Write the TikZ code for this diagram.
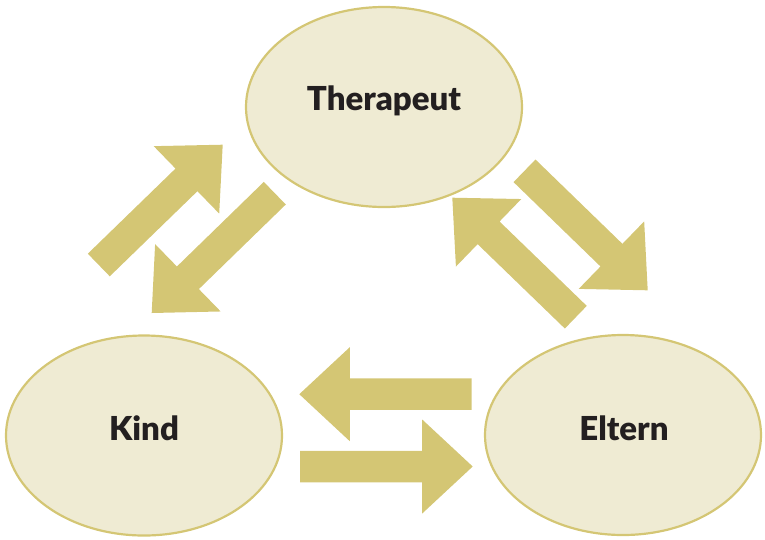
\documentclass[tikz,border=0pt]{standalone}
\usepackage{fontspec}
\setmainfont{Lato}[BoldFont={Lato Black}]
\usetikzlibrary{shapes.geometric,calc}
\definecolor{arrowcol}{HTML}{D4C674}
\definecolor{ellfill}{HTML}{EFEBD3}
\definecolor{ellline}{HTML}{D4C674}
\definecolor{txtcol}{HTML}{231F20}
\newcommand{\blockarrow}[2]{%
  \path ($(#2)!50.5pt!(#1)$) coordinate (hb);
  \fill[barrow] ($(#1)!15.75pt!90:(#2)$) -- ($(hb)!15.75pt!90:(#2)$)
    -- ($(hb)!47pt!90:(#2)$) -- (#2) -- ($(hb)!47pt!-90:(#2)$)
    -- ($(hb)!15.75pt!-90:(#2)$) -- ($(#1)!15.75pt!-90:(#2)$) -- cycle;}
\begin{document}
\begin{tikzpicture}[x=1pt,y=-1pt,
  ell/.style={ellipse,draw=ellline,line width=2.2pt,fill=ellfill,
    minimum width=276pt,minimum height=200pt,inner sep=0pt},
  lbl/.style={anchor=base,text=txtcol,font=\fontsize{33}{39}\selectfont\bfseries},
  barrow/.style={fill=arrowcol}]
\useasboundingbox (0,0) rectangle (765,539);
% ellipses
\node[ell] (T) at (384,107) {};
\node[ell] (K) at (144,435.5) {};
\node[ell] (E) at (623,435) {};
\node[lbl] (Tl) at (384,110) {Therapeut};
\node[lbl] (Kl) at (144,440) {Kind};
\node[lbl] (El) at (624,440) {Eltern};
% arrow end points
\coordinate (a1s) at (98.8,265);   \coordinate (a1e) at (222.7,144.7);
\coordinate (a2s) at (274.8,193.2); \coordinate (a2e) at (151.7,313);
\coordinate (a3s) at (575.8,317.2); \coordinate (a3e) at (452.3,197.7);
\coordinate (a4s) at (524.5,170.8); \coordinate (a4e) at (647.7,290.3);
\coordinate (a5s) at (471.7,394.2); \coordinate (a5e) at (299.3,394.2);
\coordinate (a6s) at (300,466.5);   \coordinate (a6e) at (472.7,466.5);
\blockarrow{a1s}{a1e}
\blockarrow{a2s}{a2e}
\blockarrow{a3s}{a3e}
\blockarrow{a4s}{a4e}
\blockarrow{a5s}{a5e}
\blockarrow{a6s}{a6e}
\end{tikzpicture}
\end{document}
